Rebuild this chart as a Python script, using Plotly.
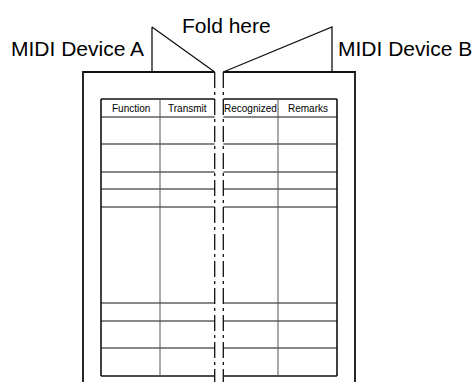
import plotly.graph_objects as go

# ---- data ----
columns = ["Function", "Transmit", "Recognized", "Remarks"]
col_centers = [130.5, 187, 250.5, 307.5]
left_cols = [101, 160]          # vertical lines of left half (outer, inner)
right_cols = [278, 337]         # vertical lines of right half (inner, outer)
fold_x = [214.7, 223.3]
row_edges = [99, 117, 144, 172, 189, 207, 303, 321, 348, 376]
page_top = 72
page_left = 83
page_right = 355
flap_top = 27
flap_a_x = 152
flap_b_x = 332
img_w, img_h = 474, 382

fig = go.Figure()

def seg(xs, ys, width=1.0, color="#000", dash="solid"):
    fig.add_trace(go.Scatter(x=xs, y=ys, mode="lines", hoverinfo="skip",
                             line=dict(color=color, width=width, dash=dash),
                             showlegend=False))

# pages + flaps
seg([fold_x[0], page_left, page_left], [page_top, page_top, img_h + 5], 1.8, "#111")
seg([fold_x[1], page_right, page_right], [page_top, page_top, img_h + 5], 1.8, "#111")
seg([flap_a_x, flap_a_x, fold_x[0]], [page_top, flap_top, page_top], 1.3, "#111")
seg([fold_x[1], flap_b_x, flap_b_x], [page_top, flap_top, page_top], 1.3, "#111")

# fold lines (dash-dot)
for fx in fold_x:
    seg([fx, fx], [page_top, img_h + 5], 1.3, "#111", "16px,4px,3px,4px")

# table horizontal lines
for i, ry in enumerate(row_edges):
    w = 1.6 if i in (0, len(row_edges) - 1) else 1.1
    seg([left_cols[0], fold_x[0], None, fold_x[1], right_cols[1]],
        [ry, ry, None, ry, ry], w, "#111")

# table vertical lines
seg([left_cols[0], left_cols[0]], [row_edges[0], row_edges[-1]], 1.6, "#111")
seg([right_cols[1], right_cols[1]], [row_edges[0], row_edges[-1]], 1.6, "#111")
seg([left_cols[1], left_cols[1]], [row_edges[0], row_edges[-1]], 1.0, "#555")
seg([right_cols[0], right_cols[0]], [row_edges[0], row_edges[-1]], 1.0, "#555")

annotations = []
hdr_y = (row_edges[0] + row_edges[1]) / 2
for name, cx in zip(columns, col_centers):
    annotations.append(dict(x=cx, y=hdr_y + 0.5, text=name, showarrow=False,
                            xanchor="center", yanchor="middle",
                            font=dict(family="Liberation Sans, Arial, sans-serif",
                                      size=10, color="#000")))
big = dict(family="Liberation Sans, Arial, sans-serif", size=21, color="#000")
annotations.append(dict(x=146, y=48, text="MIDI Device A", showarrow=False,
                        xanchor="right", yanchor="middle", font=big))
annotations.append(dict(x=226.5, y=25, text="Fold here", showarrow=False,
                        xanchor="center", yanchor="middle", font=big))
annotations.append(dict(x=336, y=48, text="MIDI Device B", showarrow=False,
                        xanchor="left", yanchor="middle", font=big))

fig.update_layout(
    width=img_w, height=img_h,
    margin=dict(l=0, r=0, t=0, b=0),
    paper_bgcolor="white", plot_bgcolor="white",
    xaxis=dict(range=[0, img_w], visible=False, fixedrange=True),
    yaxis=dict(range=[img_h, 0], visible=False, fixedrange=True),
    annotations=annotations,
)
fig.write_html(
    "out.html",
    config={"displayModeBar": False},
    post_script="document.body.style.margin='0';document.body.style.overflow='hidden';",
)
